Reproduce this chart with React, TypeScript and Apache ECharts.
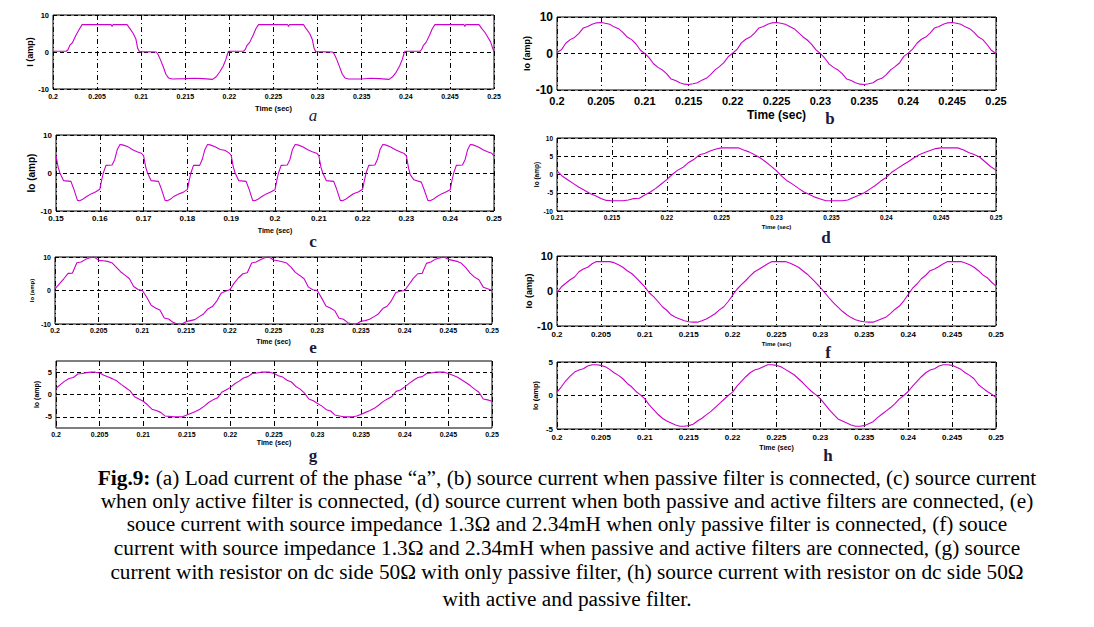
import React, { useEffect, useRef } from "react";
import * as echarts from "echarts";

// ---------------- DATA ----------------
// (a) load current: [time, amp]
const loadCurrentA: [number, number][] = [
  [0.2, 0.2], [0.2015, 0.2], [0.2017, 0.6], [0.2019, 1.8], [0.2022, 2.5], [0.2026, 4.5], [0.203, 6.2], [0.2033, 7.4],
  [0.205, 7.4], [0.2066, 7.4], [0.2067, 6.9], [0.2068, 7.4], [0.2084, 7.4], [0.2087, 6.4], [0.2091, 5.0], [0.2094, 3.5],
  [0.2096, 1.0], [0.2098, 0.1], [0.2117, 0.0], [0.2119, -0.6], [0.2122, -2.2], [0.2125, -4.0], [0.2128, -6.0], [0.2131, -7.0],
  [0.2135, -7.3], [0.215, -7.2], [0.216, -7.1], [0.217, -7.2], [0.2181, -7.4], [0.2185, -6.7], [0.2189, -5.4], [0.2193, -3.8],
  [0.2196, -2.0], [0.2198, -0.4], [0.2199, 0.2],
  [0.2216, 0.2], [0.2218, 0.7], [0.222, 1.8], [0.2223, 2.6], [0.2227, 4.6], [0.223, 6.3], [0.2233, 7.4], [0.225, 7.4],
  [0.2266, 7.4], [0.2267, 6.9], [0.2268, 7.4], [0.2284, 7.4], [0.2287, 6.3], [0.2291, 5.0], [0.2294, 3.4], [0.2296, 1.0],
  [0.2298, 0.1], [0.2317, 0.0], [0.2319, -0.6], [0.2322, -2.2], [0.2325, -4.1], [0.2328, -6.0], [0.2331, -7.0], [0.2335, -7.3],
  [0.235, -7.3], [0.236, -7.1], [0.237, -7.2], [0.2381, -7.4], [0.2385, -6.7], [0.2389, -5.5], [0.2393, -3.8], [0.2396, -2.0],
  [0.2398, -0.4], [0.2399, 0.2],
  [0.2416, 0.2], [0.2418, 0.7], [0.242, 1.8], [0.2423, 2.6], [0.2427, 4.6], [0.243, 6.3], [0.2433, 7.4], [0.245, 7.4],
  [0.2466, 7.4], [0.2467, 6.9], [0.2468, 7.4], [0.2483, 7.4], [0.2486, 6.4], [0.249, 5.2], [0.2493, 4.0], [0.2496, 2.8],
  [0.2498, 1.4], [0.25, 0.0],
];

// (c) only active filter: [time, amp]
const activeOnlyC: [number, number][] = [
  [0.15, 4.5], [0.1505, 1.5], [0.1509, 0.0], [0.1517, -2.0], [0.1534, -2.2], [0.154, -4.0], [0.1549, -7.2], [0.1554, -7.3],
  [0.156, -7.0], [0.157, -6.2], [0.158, -5.5], [0.159, -5.0], [0.16, -4.3], [0.1604, -2.0], [0.1608, 0.0], [0.1614, 2.0],
  [0.1628, 2.1], [0.1634, 3.5], [0.164, 6.2], [0.1646, 7.5], [0.1652, 7.4], [0.1663, 7.0], [0.1675, 6.1], [0.1685, 5.6], [0.1695, 5.2],
  [0.17, 4.5], [0.1705, 1.5], [0.1709, 0.0], [0.1717, -2.0], [0.1734, -2.2], [0.174, -4.0], [0.1749, -7.2], [0.1754, -7.3],
  [0.176, -7.0], [0.177, -6.1], [0.178, -5.5], [0.179, -5.1], [0.18, -4.3], [0.1804, -2.0], [0.1808, 0.0], [0.1814, 2.0],
  [0.1828, 2.0], [0.1834, 3.6], [0.184, 6.2], [0.1846, 7.5], [0.1852, 7.4], [0.1863, 6.9], [0.1875, 6.2], [0.1885, 6.0], [0.1895, 5.3],
  [0.19, 4.6], [0.1905, 1.5], [0.1909, 0.0], [0.1917, -2.0], [0.1934, -2.2], [0.194, -4.0], [0.1949, -7.2], [0.1954, -7.3],
  [0.196, -7.0], [0.197, -6.2], [0.198, -5.5], [0.199, -5.0], [0.2, -4.4], [0.2004, -2.0], [0.2008, 0.0], [0.2014, 2.0],
  [0.2028, 2.1], [0.2034, 3.5], [0.204, 6.2], [0.2046, 7.5], [0.2052, 7.4], [0.2063, 6.9], [0.2075, 6.1], [0.2085, 5.6], [0.2095, 5.2],
  [0.21, 4.6], [0.2105, 1.5], [0.2109, 0.0], [0.2117, -2.0], [0.2134, -2.2], [0.214, -4.0], [0.2149, -7.2], [0.2154, -7.3],
  [0.216, -7.0], [0.217, -6.2], [0.218, -5.4], [0.219, -5.0], [0.22, -4.3], [0.2204, -2.0], [0.2208, 0.0], [0.2214, 2.0],
  [0.2228, 2.1], [0.2234, 3.6], [0.224, 6.2], [0.2246, 7.5], [0.2252, 7.4], [0.2263, 6.9], [0.2275, 6.1], [0.2285, 5.6], [0.2295, 5.1],
  [0.23, 4.5], [0.2305, 1.2], [0.2309, -0.5], [0.2317, -1.8], [0.2334, -2.4], [0.234, -4.2], [0.2349, -7.2], [0.2354, -7.3],
  [0.236, -7.0], [0.237, -6.2], [0.238, -5.5], [0.239, -5.0], [0.24, -4.4], [0.2404, -2.0], [0.2408, 0.0], [0.2414, 2.0],
  [0.2428, 2.1], [0.2434, 3.5], [0.244, 6.2], [0.2446, 7.5], [0.2452, 7.4], [0.2463, 6.9], [0.2475, 6.1], [0.2485, 5.6], [0.2495, 5.2],
  [0.25, 4.5],
];

// Uniformly sampled series (0.5 ms steps)
const SAMPLE_STEP = 0.0005;
const startB = 0.2;
const passiveB = [
  0.3, 1.0, 2.8, 3.8, 4.4, 5.5, 7.0, 7.4, 8.0, 8.4, 8.5, 8.3, 8.0, 7.3, 6.8, 5.8, 4.5, 3.8, 2.6, 0.9,
  0.0, -1.2, -2.8, -3.8, -4.5, -5.6, -7.0, -7.4, -8.0, -8.4, -8.5, -8.3, -8.0, -7.3, -6.8, -5.8, -4.5, -3.6, -2.5, -0.9,
  0.1, 1.1, 2.9, 3.9, 4.5, 5.6, 7.0, 7.4, 8.0, 8.4, 8.5, 8.3, 8.0, 7.4, 6.8, 5.7, 4.6, 3.7, 2.5, 1.0,
  0.0, -1.3, -2.9, -3.8, -4.5, -5.6, -7.0, -7.4, -8.0, -8.4, -8.5, -8.3, -8.0, -7.2, -6.8, -5.8, -4.5, -3.6, -2.6, -0.8,
  0.1, 1.2, 2.8, 3.9, 4.5, 5.6, 7.0, 7.4, 8.0, 8.4, 8.5, 8.3, 8.0, 7.3, 6.8, 5.8, 4.5, 3.8, 2.4, 0.8,
  0.0,
];

const startD = 0.21;
const bothFiltersD = [
  1.0, -0.5, -1.5, -2.5, -3.5, -4.3, -5.2, -5.8, -6.6, -7.1, -7.2, -7.2, -7.2, -7.0, -6.6, -6.5, -5.6, -4.8, -3.8, -2.6,
  -1.4, 0.0, 1.2, 2.0, 3.3, 4.2, 5.4, 5.8, 6.5, 7.0, 7.3, 7.3, 7.3, 7.3, 6.7, 6.2, 5.4, 4.6, 3.5, 2.3,
  1.0, -0.5, -1.8, -2.7, -3.8, -4.8, -5.5, -6.2, -6.7, -7.2, -7.2, -7.2, -7.2, -7.0, -6.3, -5.7, -5.0, -4.0, -3.0, -1.8,
  -0.8, 0.6, 1.6, 2.6, 3.5, 4.5, 5.4, 6.0, 6.6, 7.1, 7.3, 7.3, 7.3, 7.3, 6.8, 6.0, 5.5, 4.8, 3.5, 2.2,
  1.2,
];

const startE = 0.2;
const impedancePassiveE = [
  0.5, 2.0, 3.5, 5.1, 5.2, 8.3, 8.5, 9.3, 9.8, 10.0, 9.0, 8.9, 8.7, 8.3, 7.0, 5.6, 4.6, 3.6, 1.2, 0.3,
  0.0, -2.0, -4.4, -5.2, -5.8, -8.2, -8.5, -9.5, -10.0, -10.0, -9.3, -9.0, -8.7, -7.8, -7.0, -5.5, -4.8, -3.2, -0.8, -0.2,
  0.2, 2.2, 3.8, 5.0, 5.3, 8.2, 8.5, 9.2, 9.8, 10.0, 9.1, 8.9, 8.6, 8.2, 7.0, 5.4, 4.5, 3.5, 1.0, 0.2,
  0.0, -2.2, -4.6, -5.2, -6.0, -8.3, -8.6, -9.6, -10.0, -10.0, -9.2, -9.0, -8.6, -7.8, -7.0, -5.4, -4.7, -3.0, -0.6, -0.2,
  0.0, 1.8, 3.6, 5.0, 5.1, 8.1, 8.5, 9.3, 9.7, 10.0, 9.3, 9.0, 8.7, 8.1, 6.8, 5.2, 4.0, 3.2, 1.0, 0.5,
  0.0,
];

const startF = 0.2;
const impedanceBothF = [
  -0.5, 1.2, 2.2, 3.2, 4.0, 5.5, 6.3, 6.8, 7.8, 8.4, 8.4, 8.4, 8.4, 8.1, 7.5, 6.8, 5.8, 5.0, 3.8, 2.5,
  1.2, -0.5, -1.6, -3.0, -4.5, -5.5, -6.8, -7.5, -8.0, -8.5, -8.8, -8.9, -8.9, -8.5, -8.0, -7.3, -6.5, -5.4, -4.5, -3.0,
  -1.2, 0.5, 1.8, 3.0, 4.3, 5.5, 6.2, 7.0, 7.8, 8.4, 8.4, 8.4, 8.4, 8.0, 7.4, 6.8, 5.8, 4.8, 3.6, 2.3,
  1.0, -0.5, -2.0, -3.4, -4.6, -5.8, -6.8, -7.6, -8.2, -8.6, -8.8, -8.9, -8.9, -8.4, -7.9, -7.4, -6.4, -5.2, -4.3, -2.8,
  -1.0, 0.8, 2.0, 3.5, 4.5, 5.8, 6.3, 7.0, 7.8, 8.4, 8.4, 8.4, 8.4, 8.0, 7.5, 6.8, 5.8, 4.6, 3.8, 2.5,
  1.4,
];

const startG = 0.2;
const dcResistorPassiveG = [
  1.4, 2.2, 3.0, 3.6, 3.8, 4.6, 4.7, 4.9, 5.0, 5.0, 4.8, 4.3, 3.9, 3.5, 3.0, 2.2, 1.5, 0.8, -0.5, -1.0,
  -1.5, -2.3, -3.3, -3.6, -4.0, -4.8, -4.9, -5.0, -5.0, -5.0, -4.6, -4.2, -3.8, -3.3, -2.6, -1.8, -1.2, -0.8, 0.5, 1.0,
  1.6, 2.4, 3.0, 3.7, 4.0, 4.7, 4.8, 5.0, 5.0, 5.0, 4.7, 4.2, 3.9, 3.2, 2.8, 1.8, 1.2, 0.3, -1.0, -1.4,
  -2.0, -2.6, -3.4, -3.7, -4.6, -4.8, -5.0, -5.0, -5.0, -4.8, -4.4, -4.0, -3.6, -3.1, -2.4, -1.6, -1.0, -0.5, 0.7, 1.0,
  1.7, 2.5, 3.2, 3.8, 4.0, 4.7, 4.8, 5.0, 5.0, 5.0, 4.7, 4.3, 3.9, 3.3, 2.7, 2.0, 1.2, 0.5, -1.0, -1.2,
  -1.5,
];

const startH = 0.2;
const dcResistorBothH = [
  0.5, 1.3, 2.2, 2.9, 3.5, 3.8, 4.0, 4.4, 4.6, 4.6, 4.5, 4.3, 3.9, 3.4, 3.0, 2.5, 1.8, 1.3, 0.6, 0.1,
  -0.5, -1.4, -2.1, -2.8, -3.4, -3.8, -4.1, -4.4, -4.6, -4.6, -4.5, -4.3, -3.8, -3.4, -2.9, -2.4, -1.8, -1.2, -0.6, 0.0,
  0.5, 1.4, 2.1, 2.8, 3.4, 3.8, 4.0, 4.3, 4.6, 4.6, 4.5, 4.3, 3.9, 3.5, 3.1, 2.5, 1.9, 1.2, 0.6, 0.1,
  -0.5, -1.3, -2.1, -2.8, -3.5, -3.8, -4.1, -4.4, -4.6, -4.6, -4.5, -4.2, -3.9, -3.3, -2.8, -2.3, -1.8, -1.2, -0.5, 0.0,
  0.6, 1.4, 2.1, 2.8, 3.4, 3.8, 4.0, 4.4, 4.6, 4.6, 4.5, 4.2, 3.9, 3.4, 3.0, 2.5, 1.6, 1.1, 0.6, 0.2,
  -0.3,
];

const captionLines = [
  "{b|Fig.9:} (a) Load current of the phase “a”, (b) source current when passive filter is connected, (c) source current",
  "when only active filter is connected, (d) source current when both passive and active filters are connected, (e)",
  "souce current with source impedance 1.3Ω and 2.34mH when only passive filter is connected, (f) souce",
  "current with source impedance 1.3Ω and 2.34mH when passive and active filters are connected, (g) source",
  "current with resistor on dc side 50Ω with only passive filter, (h) source current with resistor on dc side 50Ω",
  "with active and passive filter.",
];

// ---------------- HELPERS ----------------
const sampled = (start: number, values: number[]) =>
  values.map((v, i) => [Number((start + i * SAMPLE_STEP).toFixed(4)), v]);

const fmtX = (v: number) => String(Number(v.toFixed(3)));

const LINE = "#cc00cc";
const SANS = "Liberation Sans, Arial, sans-serif";
const SERIF = "Liberation Serif, Times New Roman, serif";
const CAPTION_SIZE = 21.3;

type Panel = {
  grid: { left: number; top: number; width: number; height: number };
  xMin: number; xMax: number; xInt: number;
  yMin: number; yMax: number; yInt: number;
  yLabels?: number[];
  hLines?: number[];
  xFont: number; yFont: number;
  yName: string; yNameFont: number; yNameGap: number;
  xNameFont: number; xNameGap: number;
  labelMargin: number;
  data: number[][];
};

const panels: Panel[] = [
  { grid: { left: 53, top: 15, width: 441, height: 74 }, xMin: 0.2, xMax: 0.25, xInt: 0.005, yMin: -10, yMax: 10, yInt: 10,
    xFont: 7, yFont: 7.5, yName: "I (amp)", yNameFont: 9, yNameGap: 18, xNameFont: 7.5, xNameGap: 15, labelMargin: 4, data: loadCurrentA },
  { grid: { left: 557, top: 17, width: 439, height: 73 }, xMin: 0.2, xMax: 0.25, xInt: 0.005, yMin: -10, yMax: 10, yInt: 10,
    xFont: 11, yFont: 12, yName: "Io (amp)", yNameFont: 9, yNameGap: 22, xNameFont: 12, xNameGap: 19, labelMargin: 5, data: sampled(startB, passiveB) },
  { grid: { left: 56, top: 135, width: 438, height: 76 }, xMin: 0.15, xMax: 0.25, xInt: 0.01, yMin: -10, yMax: 10, yInt: 10,
    xFont: 8, yFont: 8, yName: "Io (amp)", yNameFont: 10, yNameGap: 17, xNameFont: 7, xNameGap: 16, labelMargin: 3, data: activeOnlyC },
  { grid: { left: 557, top: 138, width: 439, height: 73 }, xMin: 0.21, xMax: 0.25, xInt: 0.005, yMin: -10, yMax: 10, yInt: 5,
    xFont: 6.5, yFont: 6.5, yName: "Io (amp)", yNameFont: 6.5, yNameGap: 17, xNameFont: 6, xNameGap: 13, labelMargin: 3, data: sampled(startD, bothFiltersD) },
  { grid: { left: 55, top: 257, width: 437, height: 67 }, xMin: 0.2, xMax: 0.25, xInt: 0.005, yMin: -10, yMax: 10, yInt: 10,
    xFont: 7, yFont: 7, yName: "Io (amp)", yNameFont: 6, yNameGap: 20, xNameFont: 7, xNameGap: 14, labelMargin: 3, data: sampled(startE, impedancePassiveE) },
  { grid: { left: 557, top: 256, width: 439, height: 70 }, xMin: 0.2, xMax: 0.25, xInt: 0.005, yMin: -10, yMax: 10, yInt: 10,
    xFont: 8, yFont: 11, yName: "Io (amp)", yNameFont: 9, yNameGap: 20, xNameFont: 6, xNameGap: 15, labelMargin: 4, data: sampled(startF, impedanceBothF) },
  { grid: { left: 56, top: 361, width: 436, height: 67 }, xMin: 0.2, xMax: 0.25, xInt: 0.005, yMin: -7.5, yMax: 7.5, yInt: 2.5,
    yLabels: [-5, 0, 5], hLines: [-5, 0, 5],
    xFont: 7, yFont: 7.5, yName: "Io (amp)", yNameFont: 7, yNameGap: 16, xNameFont: 7, xNameGap: 10, labelMargin: 3, data: sampled(startG, dcResistorPassiveG) },
  { grid: { left: 557, top: 362, width: 439, height: 67 }, xMin: 0.2, xMax: 0.25, xInt: 0.005, yMin: -5, yMax: 5, yInt: 5,
    xFont: 8, yFont: 8, yName: "Io (amp)", yNameFont: 7.5, yNameGap: 18, xNameFont: 7, xNameGap: 15, labelMargin: 4, data: sampled(startH, dcResistorBothH) },
];

const letters = [
  { t: "a", x: 313, y: 115, italic: true },
  { t: "b", x: 830, y: 118 },
  { t: "c", x: 313, y: 241 },
  { t: "d", x: 826, y: 237 },
  { t: "e", x: 313, y: 347 },
  { t: "f", x: 828, y: 352 },
  { t: "g", x: 313, y: 455 },
  { t: "h", x: 828, y: 455 },
];

const captionY = [478, 501, 524, 548, 572, 599];

function buildOption() {
  const grid: any[] = [];
  const xAxis: any[] = [];
  const yAxis: any[] = [];
  const series: any[] = [];
  panels.forEach((p, i) => {
    grid.push({
      ...p.grid,
      show: true,
      borderColor: "#000",
      borderWidth: 1,
      backgroundColor: "#fff",
      containLabel: false,
      outerBoundsMode: "none",
    });
    xAxis.push({
      type: "value",
      gridIndex: i,
      min: p.xMin,
      max: p.xMax,
      interval: p.xInt,
      axisLine: { show: false },
      axisTick: { show: false },
      axisLabel: {
        formatter: fmtX,
        fontSize: p.xFont,
        fontWeight: "bold",
        fontFamily: SANS,
        color: "#000",
        margin: p.labelMargin,
        showMinLabel: true,
        showMaxLabel: true,
      },
      splitLine: { show: true, lineStyle: { color: "#000", width: 1, type: [5, 3, 1, 3] } },
      name: "Time (sec)",
      nameLocation: "middle",
      nameGap: p.xNameGap,
      nameTextStyle: { fontSize: p.xNameFont, fontWeight: "bold", fontFamily: SANS, color: "#000" },
    });
    const allowed = p.yLabels;
    yAxis.push({
      type: "value",
      gridIndex: i,
      min: p.yMin,
      max: p.yMax,
      interval: p.yInt,
      axisLine: { show: false },
      axisTick: { show: false },
      axisLabel: {
        formatter: (v: number) => (allowed ? (allowed.includes(v) ? String(v) : "") : String(v)),
        fontSize: p.yFont,
        fontWeight: "bold",
        fontFamily: SANS,
        color: "#000",
        margin: 4,
        showMinLabel: true,
        showMaxLabel: true,
      },
      splitLine: { show: !p.hLines, lineStyle: { color: "#000", width: 1, type: [4, 3] } },
      name: p.yName,
      nameLocation: "middle",
      nameRotate: 90,
      nameGap: p.yNameGap,
      nameTextStyle: { fontSize: p.yNameFont, fontWeight: "bold", fontFamily: SANS, color: "#000" },
    });
    series.push({
      type: "line",
      xAxisIndex: i,
      yAxisIndex: i,
      data: p.data,
      showSymbol: false,
      symbol: "none",
      clip: true,
      lineStyle: { color: LINE, width: 1.1 },
      itemStyle: { color: LINE },
      z: 5,
      markLine: p.hLines
        ? {
            silent: true,
            symbol: "none",
            label: { show: false },
            lineStyle: { color: "#000", width: 1, type: [4, 3] },
            data: p.hLines.map((v) => ({ yAxis: v })),
            z: 2,
          }
        : undefined,
    });
  });

  const graphic: any[] = [];
  letters.forEach((l) => {
    graphic.push({
      type: "text",
      x: l.x,
      y: l.y,
      style: {
        text: l.t,
        fontSize: 17,
        fontFamily: SERIF,
        fontWeight: l.italic ? "normal" : "bold",
        fontStyle: l.italic ? "italic" : "normal",
        fill: "#1a1a3a",
        align: "center",
        verticalAlign: "middle",
      },
    });
  });
  captionLines.forEach((line, i) => {
    graphic.push({
      type: "text",
      x: 567,
      y: captionY[i],
      style: {
        text: line,
        fontSize: CAPTION_SIZE,
        fontFamily: SERIF,
        fill: "#000",
        align: "center",
        verticalAlign: "middle",
        rich: { b: { fontSize: CAPTION_SIZE, fontFamily: SERIF, fontWeight: "bold", fill: "#000" } },
      },
    });
  });

  return {
    animation: false,
    backgroundColor: "#fff",
    grid,
    xAxis,
    yAxis,
    series,
    graphic,
  };
}

export default function App() {
  const ref = useRef<HTMLDivElement>(null);
  useEffect(() => {
    if (!ref.current) return;
    const chart = echarts.init(ref.current, undefined, { renderer: "svg" });
    chart.setOption(buildOption() as any);
    return () => chart.dispose();
  }, []);
  return (
    <div
      ref={ref}
      style={{ position: "fixed", left: 0, top: 0, width: 1094, height: 627, background: "#fff" }}
    />
  );
}
